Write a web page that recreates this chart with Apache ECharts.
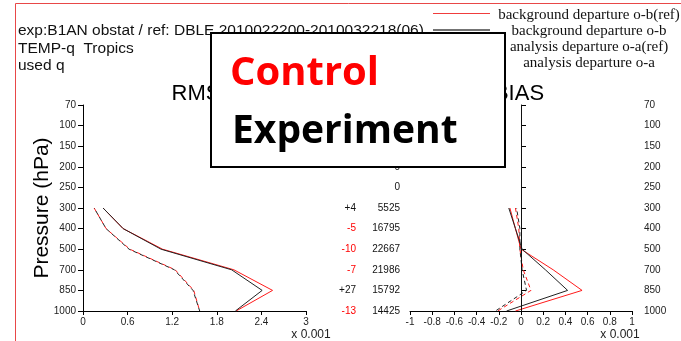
<!DOCTYPE html>
<html><head><meta charset="utf-8">
<script src="https://cdn.jsdelivr.net/npm/echarts@6.0.0/dist/echarts.min.js"></script>
<style>html,body{margin:0;padding:0;background:#fff}#c{width:681px;height:341px}</style>
</head><body><div id="c"></div>
<script>
// ---- data ----
const levels = ['70','100','150','200','250','300','400','500','700','850','1000'];
const plotLevels = ['300','400','500','700','850','1000'];
const counts = ['0','0','0','0','0','5525','16795','22667','21986','15792','14425'];
const diffs = ['','','','','','+4','-5','-10','-7','+27','-13'];
// RMS (x 0.001)
const rmsObRef = [0.27, 0.54, 1.07, 2.03, 2.55, 2.06];
const rmsOb    = [0.27, 0.54, 1.05, 2.00, 2.41, 2.05];
const rmsOaRef = [0.15, 0.31, 0.63, 1.24, 1.49, 1.57];
const rmsOa    = [0.15, 0.31, 0.62, 1.23, 1.48, 1.57];
// BIAS (x 0.001)
const biasObRef = [-0.10, -0.05, 0.00, 0.29, 0.55, -0.05];
const biasOb    = [-0.11, -0.05, 0.01, 0.22, 0.42, -0.13];
const biasOaRef = [-0.05, -0.02, -0.01, 0.02, 0.09, -0.21];
const biasOa    = [-0.04, -0.01, -0.01, 0.01, 0.05, -0.23];
const xTicksRms = [0, 3, 0.6];
const xTicksBias = [-1, 1, 0.2];
const legendNames = ['background departure o-b(ref)','background departure o-b','analysis departure o-a(ref)','analysis departure o-a'];

const RED = '#ff1a1a', DARK = '#222';
const SANS = 'Liberation Sans, Arial, sans-serif';
const pair = (xs) => xs.map((v, i) => [v, plotLevels[i]]);

const chart = echarts.init(document.getElementById('c'), null, {renderer: 'canvas'});

function valueX(gi, t) {
  return {
    gridIndex: gi, type: 'value', min: t[0], max: t[1], interval: t[2],
    axisLine: {show: true, onZero: false, lineStyle: {color: '#000', width: 1}},
    axisTick: {show: true, inside: false, length: 4, lineStyle: {color: '#000'}},
    axisLabel: {fontSize: 10, color: '#222', fontFamily: SANS, margin: 6,
      formatter: v => String(+(+v).toFixed(1))},
    splitLine: {show: false}
  };
}
function catY(gi, extra) {
  return Object.assign({
    gridIndex: gi, type: 'category', data: levels, inverse: true, boundaryGap: false
  }, extra);
}
function line(name, xi, yi, data, color, dashed, offset) {
  return {
    name, type: 'line', xAxisIndex: xi, yAxisIndex: yi, data: data,
    showSymbol: false, symbol: 'none', silent: true,
    lineStyle: {color, width: 1, type: dashed ? [4, 3] : 'solid', dashOffset: offset || 0},
    z: color === RED ? 2 : 3
  };
}
const T = (x, y, text, size, extra) => ({type: 'text', z: 1, x, y, style: Object.assign({
  text, fill: '#111', fontSize: size, fontFamily: SANS,
  align: 'left', verticalAlign: 'middle', textAlign: 'left', textVerticalAlign: 'middle'}, extra || {})});

const option = {
  animation: false,
  backgroundColor: '#fff',
  grid: [
    {left: 83, top: 105, width: 223, height: 206, outerBoundsMode: 'none'},
    {left: 410, top: 105, width: 222, height: 206, outerBoundsMode: 'none'}
  ],
  xAxis: [valueX(0, xTicksRms), valueX(1, xTicksBias)],
  yAxis: [
    catY(0, {position: 'left',
      axisLine: {show: true, lineStyle: {color: '#000'}},
      axisTick: {show: true, length: 5, lineStyle: {color: '#000'}},
      axisLabel: {fontSize: 10, color: '#222', fontFamily: SANS, margin: 7}}),
    catY(0, {position: 'right', offset: 90,
      axisLine: {show: false}, axisTick: {show: false},
      axisLabel: {fontSize: 10, color: '#111', fontFamily: SANS, margin: 4, align: 'right',
        formatter: (v) => counts[levels.indexOf(v)]}}),
    catY(0, {position: 'right', offset: 46,
      axisLine: {show: false}, axisTick: {show: false},
      axisLabel: {fontSize: 10, fontFamily: SANS, margin: 4, align: 'right',
        formatter: (v) => diffs[levels.indexOf(v)],
        color: (v) => (diffs[levels.indexOf(v)] || '').charAt(0) === '-' ? '#ff0000' : '#111'}}),
    catY(1, {position: 'right',
      axisLine: {show: true, lineStyle: {color: '#000'}},
      axisTick: {show: true, length: 5, lineStyle: {color: '#000'}},
      axisLabel: {fontSize: 10, color: '#222', fontFamily: SANS, margin: 12}})
  ],
  series: [
    line(legendNames[0], 0, 0, pair(rmsObRef), RED, false),
    line(legendNames[2], 0, 0, pair(rmsOaRef), RED, true, 0),
    line(legendNames[1], 0, 0, pair(rmsOb), DARK, false),
    line(legendNames[3], 0, 0, pair(rmsOa), DARK, true, 3.5),
    Object.assign(line(legendNames[0], 1, 3, pair(biasObRef), RED, false), {
      markLine: {silent: true, symbol: ['none', 'none'], label: {show: false},
        lineStyle: {color: '#111', width: 1, type: 'solid'}, data: [{xAxis: 0}]}
    }),
    line(legendNames[2], 1, 3, pair(biasOaRef), RED, true, 0),
    line(legendNames[1], 1, 3, pair(biasOb), DARK, false),
    line(legendNames[3], 1, 3, pair(biasOa), DARK, true, 3.5)
  ],
  graphic: {elements: [
    {type: 'rect', z: 1, shape: {x: 15.5, y: 3.5, width: 700, height: 400},
      style: {fill: 'none', stroke: '#e84848', lineWidth: 1}},
    T(18, 30.5, 'exp:B1AN obstat / ref: DBLE 2010022200-2010032218(06)', 15.5),
    T(18, 49, 'TEMP-q  Tropics', 15.5),
    T(18, 65.5, 'used q', 15.5),
    // legend
    {type: 'line', z: 1, shape: {x1: 433, y1: 13.5, x2: 490, y2: 13.5}, style: {stroke: '#f03c3c', lineWidth: 1.2}},
    {type: 'line', z: 1, shape: {x1: 433, y1: 30, x2: 490, y2: 30}, style: {stroke: '#444', lineWidth: 1.6}},
    {type: 'line', z: 1, shape: {x1: 433, y1: 46.5, x2: 490, y2: 46.5}, style: {stroke: RED, lineWidth: 1, lineDash: [4, 3]}},
    {type: 'line', z: 1, shape: {x1: 433, y1: 62.5, x2: 490, y2: 62.5}, style: {stroke: DARK, lineWidth: 1, lineDash: [4, 3]}},
    ...legendNames.map((t, i) => T(589, [15.5, 31.5, 47.5, 63][i], t, 15,
      {fontFamily: 'Liberation Serif, Times New Roman, serif', align: 'center', textAlign: 'center'})),
    // titles
    T(196, 94, 'RMS', 22, {fill: '#000', align: 'center', textAlign: 'center'}),
    T(519, 94, 'BIAS', 22, {fill: '#000', align: 'center', textAlign: 'center'}),
    Object.assign(T(42, 208, 'Pressure (hPa)', 21, {fill: '#000', align: 'center', textAlign: 'center'}), {rotation: Math.PI / 2}),
    T(311, 335, 'x 0.001', 12, {fill: '#222', align: 'center', textAlign: 'center'}),
    T(620, 335, 'x 0.001', 12, {fill: '#222', align: 'center', textAlign: 'center'}),
    // overlay box
    {type: 'rect', z: 100, shape: {x: 211, y: 33, width: 294, height: 134},
      style: {fill: '#fff', stroke: '#000', lineWidth: 2}},
    Object.assign(T(230, 74, 'Control', 40, {fill: '#ff0000', fontWeight: 'bold', fontFamily: 'Open Sans, sans-serif'}), {z: 101}),
    Object.assign(T(232, 132, 'Experiment', 39, {fill: '#000', fontWeight: 'bold', fontFamily: 'Open Sans, sans-serif'}), {z: 101})
  ]}
};
chart.setOption(option);
</script>
</body></html>
